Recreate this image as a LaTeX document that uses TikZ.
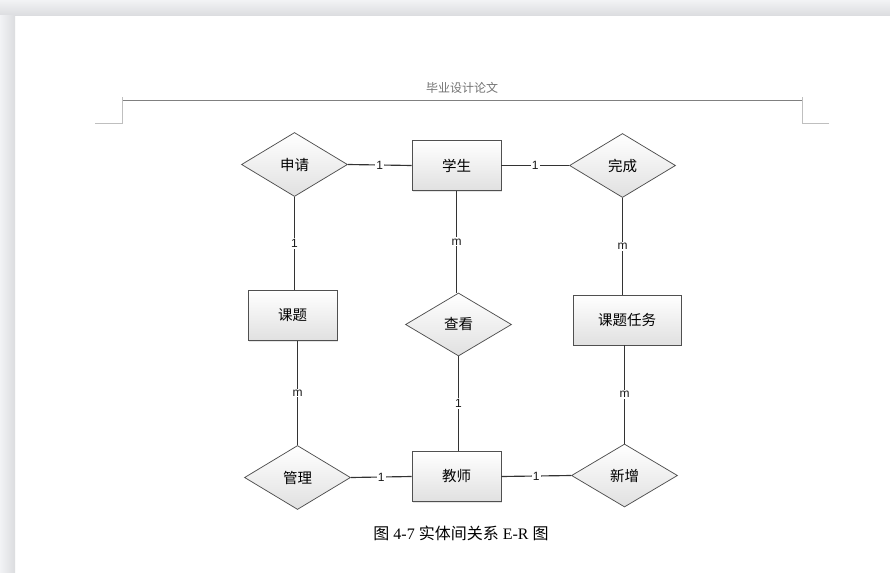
\documentclass[tikz,border=0pt]{standalone}
\usepackage{fontspec}
\setmainfont{Liberation Serif}
\setsansfont{Liberation Sans}
\newfontfamily\cjksans{Noto Sans CJK SC}
\usepackage{xcolor}
\usetikzlibrary{positioning,shapes.geometric,shadows}

\definecolor{barlight}{RGB}{242,243,245}
\definecolor{bardark}{RGB}{219,220,223}
\definecolor{edgegray}{RGB}{80,80,80}

\begin{document}
\begin{tikzpicture}[x=1pt, y=-1pt,
    entity/.style={rectangle, draw=edgegray, line width=0.9pt, top color=white, bottom color=black!12,
        minimum width=89pt, minimum height=50pt, inner sep=0pt,
        font=\cjksans\fontsize{14.5}{16}\selectfont,
        drop shadow={opacity=0.2, shadow xshift=1.2pt, shadow yshift=-1.2pt}},
    relation/.style={diamond, draw=edgegray, line width=0.75pt, top color=white, bottom color=black!12,
        aspect=1.65, inner sep=0pt, minimum width=106pt, minimum height=64pt,
        font=\cjksans\fontsize{14.5}{16}\selectfont},
    card/.style={fill=white, inner sep=1.2pt, text=black!90, font=\sffamily\fontsize{12}{13}\selectfont},
    link/.style={draw=black!80, line width=1.15pt}]

    \useasboundingbox (0,0) rectangle (890,572);

    % page and window frame
    \fill[white] (0,0) rectangle (890,572);
    \shade[top color=barlight, bottom color=bardark] (0,0) rectangle (890,16);
    \shade[left color=barlight, right color=bardark] (0,16) rectangle (15,572);

    % header
    \node[text=black!55, font=\cjksans\fontsize{12}{13}\selectfont] (hdr) at (462,88) {毕业设计论文};
    \draw[black!50, line width=0.9pt] (122,100.5) -- (802,100.5);
    \draw[black!25, line width=0.6pt] (95,123.5) -- (122.5,123.5) -- (122.5,97);
    \draw[black!25, line width=0.6pt] (829,123.5) -- (802.5,123.5) -- (802.5,97);

    % entities
    \node[entity] (xs) at (456.5,165.5) {学生};
    \node[entity] (kt) at (292.5,315.5) {课题};
    \node[entity, minimum width=108pt] (rw) at (627,320) {课题任务};
    \node[entity] (js) at (456.5,476.5) {教师};

    % relationships
    \node[relation] (sq) at (294.5,164.5) {申请};
    \node[relation] (wc) at (622.5,165.5) {完成};
    \node[relation, minimum height=63pt] (ck) at (458.5,324.5) {查看};
    \node[relation] (gl) at (297.5,477.5) {管理};
    \node[relation, minimum height=63pt] (xz) at (624.5,475.5) {新增};

    % connectors with cardinalities
    \draw[link] (sq.east) -- node[card] {1} (xs.west);
    \draw[link] (xs.east) -- node[card] {1} (wc.west);
    \draw[link] (sq.south) -- node[card] {1} (sq.south |- kt.north);
    \draw[link] (xs.south) -- node[card] {m} (xs.south |- ck.north);
    \draw[link] (wc.south) -- node[card] {m} (wc.south |- rw.north);
    \draw[link] (gl.north |- kt.south) -- node[card] {m} (gl.north);
    \draw[link] (ck.south) -- node[card] {1} (ck.south |- js.north);
    \draw[link] (xz.north |- rw.south) -- node[card] {m} (xz.north);
    \draw[link] (gl.east) -- node[card] {1} (js.west);
    \draw[link] (js.east) -- node[card] {1} (xz.west);

    % caption
    \node[font=\fontsize{16}{18}\selectfont] (cap) at (461,533)
        {{\cjksans 图} 4-7 {\cjksans 实体间关系} E-R {\cjksans 图}};
\end{tikzpicture}
\end{document}
